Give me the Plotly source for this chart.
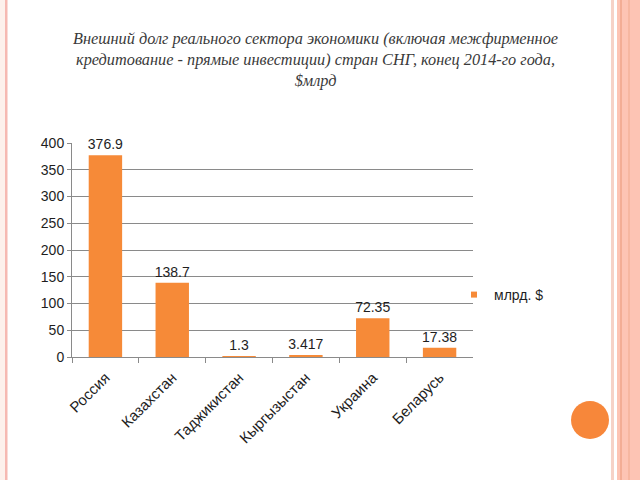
import plotly.graph_objects as go

# ---- data ----
countries = ["Россия", "Казахстан", "Таджикистан", "Кыргызыстан", "Украина", "Беларусь"]
debt_bn_usd = [376.9, 138.7, 1.3, 3.417, 72.35, 17.38]
series_name = "млрд. $"
y_ticks = [0, 50, 100, 150, 200, 250, 300, 350, 400]
title_lines = [
    "Внешний долг реального сектора экономики (включая межфирменное",
    "кредитование - прямые инвестиции) стран СНГ, конец 2014-го года,",
    "$млрд",
]

W, H = 640, 480
BAR = "#F68A38"
TXT = "#1e1e1e"
GRID = "#8a8a8a"


def px(x):
    return x / W


def py(y):
    return 1 - y / H


fig = go.Figure()
fig.add_trace(go.Bar(
    x=countries, y=debt_bn_usd, name=series_name,
    marker=dict(color=BAR, line=dict(width=0)),
    width=0.5,
    texttemplate="%{y}", textposition="outside",
    textfont=dict(family="Liberation Sans, Arial, sans-serif", size=14, color=TXT),
    constraintext="none", cliponaxis=False,
    showlegend=False,
))
# legend entry (small square marker like the original)
fig.add_trace(go.Scatter(
    x=[None], y=[None], mode="markers", name=series_name,
    marker=dict(symbol="square", size=6, color=BAR),
    showlegend=True,
))

shapes = []
# left slide border
shapes.append(dict(type="rect", xref="paper", yref="paper", x0=0, x1=px(5), y0=0, y1=1,
                   fillcolor="#fdf1ec", line=dict(width=0), layer="below"))
shapes.append(dict(type="rect", xref="paper", yref="paper", x0=px(5), x1=px(7.5), y0=0, y1=1,
                   fillcolor="#f6b9b2", line=dict(width=0), layer="below"))
# right slide border
shapes.append(dict(type="rect", xref="paper", yref="paper", x0=px(611), x1=px(614), y0=0, y1=1,
                   fillcolor="#f6d2c7", line=dict(width=0), layer="below"))
shapes.append(dict(type="rect", xref="paper", yref="paper", x0=px(617), x1=1, y0=0, y1=1,
                   fillcolor="#fdc4b4", line=dict(width=0), layer="below"))
shapes.append(dict(type="rect", xref="paper", yref="paper", x0=px(620), x1=px(622), y0=0, y1=1,
                   fillcolor="#f3ad95", line=dict(width=0), layer="below"))
shapes.append(dict(type="rect", xref="paper", yref="paper", x0=px(628), x1=px(630), y0=0, y1=1,
                   fillcolor="#f6b7a1", line=dict(width=0), layer="below"))
# orange decorative circle
shapes.append(dict(type="circle", xref="paper", yref="paper",
                   x0=px(571), x1=px(609), y0=py(439), y1=py(401),
                   fillcolor="#F7873A", line=dict(width=0), layer="above"))

annotations = [dict(
    text="<br>".join(title_lines),
    xref="paper", yref="paper",
    x=px(315), xanchor="center", y=py(27), yanchor="top",
    showarrow=False, align="center",
    font=dict(family="Liberation Serif, serif", size=16.3, color="#3a3a3a", style="italic"),
)]

fig.update_layout(
    width=W, height=H,
    margin=dict(l=0, r=0, t=0, b=0),
    paper_bgcolor="white", plot_bgcolor="white",
    font=dict(family="Liberation Sans, Arial, sans-serif", size=14, color=TXT),
    xaxis=dict(
        domain=[px(72), px(473)],
        type="category",
        automargin=False,
        showline=True, linecolor=GRID, linewidth=1,
        ticks="outside", tickson="boundaries", ticklen=5, tickcolor=GRID,
        tickangle=-45, showgrid=False,
        ticklabelstandoff=5,
        tickfont=dict(size=15, color=TXT),
    ),
    yaxis=dict(
        domain=[py(357), py(143)],
        range=[0, 400],
        tickvals=y_ticks,
        automargin=False,
        showline=True, linecolor=GRID, linewidth=1,
        ticks="outside", ticklen=4, tickcolor=GRID,
        showgrid=True, gridcolor=GRID, gridwidth=1,
        zeroline=False,
        tickfont=dict(size=14, color=TXT),
    ),
    legend=dict(
        x=px(454), xanchor="left", y=py(295), yanchor="middle",
        font=dict(size=14, color=TXT), bgcolor="rgba(0,0,0,0)",
    ),
    shapes=shapes,
    annotations=annotations,
    bargap=0.5,
)

fig.write_html("out.html")
